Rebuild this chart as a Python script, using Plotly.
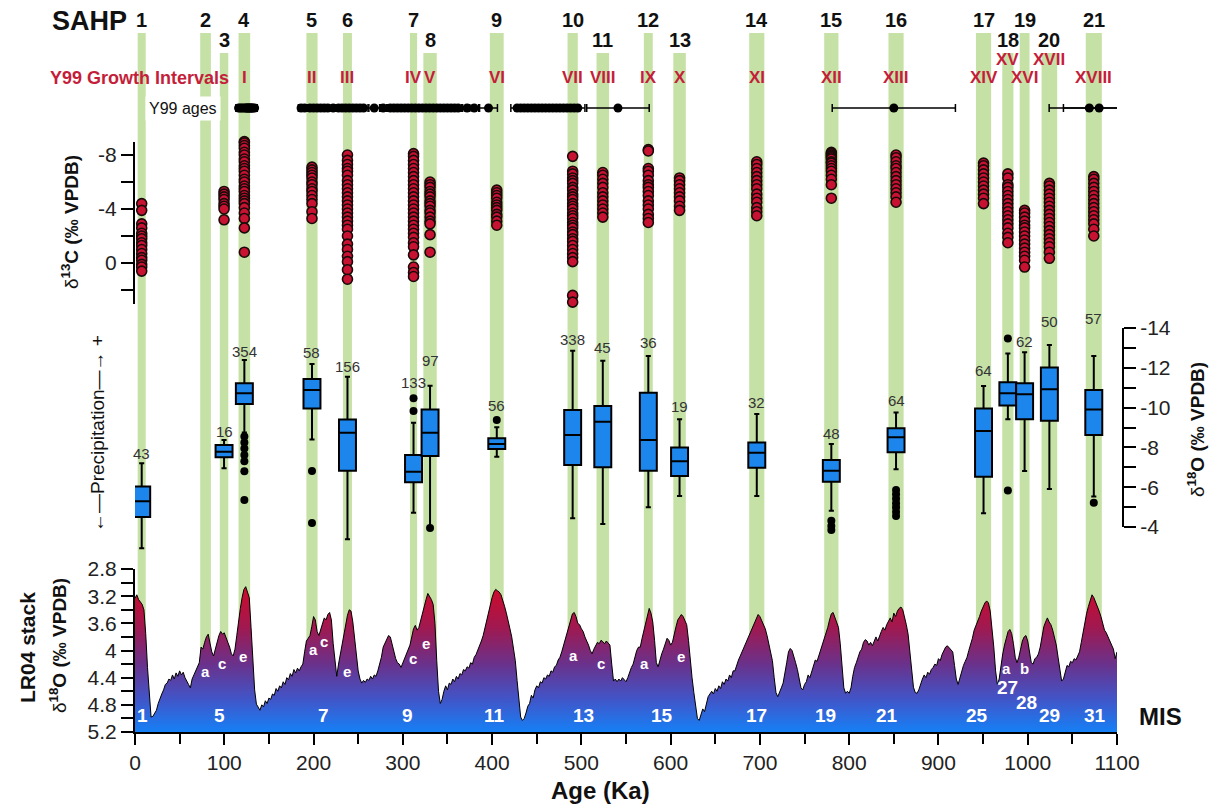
import plotly.graph_objects as go

W, H = 1219, 811
FONT = "Liberation Sans, Arial, sans-serif"

# ---------------- data ----------------
# SAHP green intervals (ka)
band_start = [3, 73, 95, 116, 192, 233, 308, 323, 397.5, 484.5, 517, 570, 603, 688, 772, 844, 942, 971.5, 991, 1015.5, 1065]
band_end = [12, 85, 104.5, 129, 204.5, 243, 316, 338, 413, 496, 531, 580, 617, 705, 788, 861, 959, 984, 1002, 1033, 1083]
band_tall = [1, 1, 0, 1, 1, 1, 1, 0, 1, 1, 0, 1, 0, 1, 1, 1, 1, 0, 1, 0, 1]
sahp_labels = [str(i) for i in range(1, 22)]
y99_intervals = ["", "", "", "I", "II", "III", "IV", "V", "VI", "VII", "VIII", "IX", "X", "XI",
                 "XII", "XIII", "XIV", "XV", "XVI", "XVII", "XVIII"]
y99_interval_high = ["XV", "XVII"]

# Y99 ages (ka) and 2-sigma errors
y99_age = [116, 118, 120, 122, 124, 125, 126, 127, 128, 129, 130, 131, 132, 134,
           186, 190, 196, 200, 204, 208, 212, 216, 222, 228, 232, 236, 240, 244, 248, 252, 256, 268, 278,
           286, 290, 294, 298, 302, 306, 310, 314, 318, 322, 326, 330, 334, 338, 342, 346, 350, 354, 358,
           362, 372, 380, 396,
           428, 432, 436, 440, 444, 448, 452, 456, 460, 464, 468, 472, 476, 480, 484, 488, 492, 496,
           541, 850, 1069, 1080]
y99_err = [3, 3, 3, 3, 3, 3, 3, 3, 3, 3, 3, 3, 3, 3,
           3, 3, 3, 4, 3, 4, 3, 4, 6, 3, 4, 3, 4, 3, 4, 3, 6, 7, 4,
           3, 4, 3, 4, 3, 4, 3, 4, 3, 4, 3, 4, 3, 4, 3, 4, 3, 4, 3,
           5, 6, 5, 10,
           7, 4, 4, 4, 3, 4, 3, 4, 3, 4, 4, 3, 4, 4, 4, 5, 6, 8,
           35, 69, 45, 40]

# delta13C values per SAHP interval (per mil VPDB)
d13c = {
    1: [-4.4, -3.9, -2.9, -2.6, -2.2, -2.0, -1.8, -1.5, -1.3, -1.0, -0.7, -0.4, -0.2, 0.1, 0.3, 0.6],
    3: [-5.3, -5.1, -4.9, -4.7, -4.4, -4.2, -4.0, -3.2],
    4: [-9.0, -8.9, -8.7, -8.5, -8.2, -8.0, -7.7, -7.5, -7.2, -7.0, -6.8, -6.5, -6.2, -6.0, -5.7, -5.5,
        -5.3, -5.0, -4.8, -4.6, -4.4, -4.1, -3.7, -3.3, -2.6, -0.8],
    5: [-7.1, -6.9, -6.7, -6.5, -6.3, -6.0, -5.8, -5.5, -5.3, -5.0, -4.7, -4.4, -3.8, -3.3],
    6: [-8.0, -7.6, -7.3, -7.0, -6.8, -6.5, -6.1, -5.8, -5.5, -5.2, -4.9, -4.6, -4.3, -4.0, -3.7, -3.4,
        -3.1, -2.8, -2.5, -2.0, -1.4, -1.0, -0.5, -0.1, 0.5, 1.2],
    7: [-8.1, -7.9, -7.6, -7.3, -7.0, -6.7, -6.4, -6.1, -5.8, -5.5, -5.2, -4.9, -4.6, -4.3, -4.0, -3.7,
        -3.4, -3.1, -2.8, -2.5, -2.2, -1.9, -1.5, -1.2, -0.6, 0.3, 0.7, 1.0],
    8: [-6.0, -5.8, -5.6, -5.3, -5.1, -4.9, -4.6, -4.4, -4.2, -3.9, -3.7, -3.4, -3.1, -2.9, -2.1, -0.8],
    9: [-5.4, -5.2, -5.0, -4.8, -4.5, -4.3, -4.1, -3.9, -3.6, -3.4, -3.1, -2.8],
    10: [-7.9, -6.8, -6.6, -6.3, -6.1, -5.9, -5.6, -5.4, -5.1, -4.9, -4.7, -4.4, -4.2, -4.0, -3.7, -3.5,
         -3.3, -3.0, -2.8, -2.6, -2.3, -2.1, -1.8, -1.6, -1.3, -1.0, -0.7, -0.4, -0.1, 2.4, 2.9],
    11: [-6.7, -6.5, -6.2, -5.9, -5.6, -5.2, -4.9, -4.6, -4.3, -4.0, -3.7, -3.4],
    12: [-8.4, -8.3, -7.0, -6.8, -6.5, -6.1, -5.8, -5.6, -5.3, -5.0, -4.6, -4.3, -4.0, -3.6, -3.3, -3.0],
    13: [-6.3, -6.1, -5.8, -5.5, -5.2, -4.9, -4.6, -4.2, -3.9],
    14: [-7.5, -7.3, -7.0, -6.7, -6.4, -6.1, -5.8, -5.5, -5.1, -4.8, -4.5, -4.1, -3.8, -3.5],
    15: [-8.2, -8.1, -8.0, -7.9, -7.8, -7.7, -7.5, -7.4, -7.2, -7.0, -6.8, -6.5, -6.2, -5.8, -4.8],
    16: [-8.0, -7.8, -7.5, -7.2, -7.0, -6.7, -6.4, -6.1, -5.8, -5.5, -5.2, -4.9, -4.5],
    17: [-7.4, -7.2, -6.9, -6.6, -6.3, -6.0, -5.7, -5.4, -5.1, -4.8, -4.4],
    18: [-6.6, -6.3, -5.8, -5.6, -5.3, -5.0, -4.7, -4.4, -4.1, -3.8, -3.5, -3.2, -2.9, -2.6, -2.2, -1.9, -1.5],
    19: [-3.9, -3.7, -3.4, -3.1, -2.8, -2.6, -2.3, -2.0, -1.7, -1.4, -1.1, -0.8, -0.5, -0.2, 0.3],
    20: [-5.9, -5.7, -5.4, -5.1, -4.8, -4.5, -4.2, -3.9, -3.6, -3.3, -3.0, -2.7, -2.4, -2.1, -1.8, -1.5,
         -1.2, -0.8, -0.35],
    21: [-6.4, -6.2, -5.9, -5.6, -5.3, -5.0, -4.7, -4.4, -4.1, -3.8, -3.5, -3.2, -2.9, -2.5, -2.0],
}

# delta18O box statistics per SAHP interval
box_sahp = [1, 3, 4, 5, 6, 7, 8, 9, 10, 11, 12, 13, 14, 15, 16, 17, 18, 19, 20, 21]
box_n = [43, 16, 354, 58, 156, 133, 97, 56, 338, 45, 36, 19, 32, 48, 64, 64, 63, 62, 50, 57]
box_whisker_top = [-7.2, -8.37, -12.39, -12.19, -11.55, -9.24, -11.1, -9.01, -12.86, -12.36, -12.59,
                   -9.41, -9.68, -8.17, -9.75, -11.09, -12.72, -12.78, -13.15, -12.59]
box_q_top = [-6.03, -8.12, -11.22, -11.44, -9.4, -7.62, -9.91, -8.46, -9.88, -10.08, -10.75,
             -8.0, -8.24, -7.37, -8.96, -9.96, -11.27, -11.22, -12.01, -10.88]
box_median = [-5.3, -7.78, -10.72, -10.88, -8.74, -6.78, -8.74, -8.17, -8.62, -9.29, -8.37,
              -7.3, -7.73, -6.83, -8.51, -8.82, -10.72, -10.67, -10.92, -9.91]
box_q_bottom = [-4.5, -7.5, -10.18, -9.96, -6.83, -6.25, -7.57, -7.92, -7.12, -7.0, -6.83,
                -6.56, -6.98, -6.28, -7.75, -6.53, -10.1, -9.41, -9.34, -8.62]
box_whisker_bottom = [-2.93, -6.95, -8.75, -8.4, -3.38, -4.72, -4.05, -7.53, -4.44, -4.15, -4.99,
                      -5.56, -5.56, -4.82, -6.9, -4.69, -9.41, -6.81, -5.91, -5.53]
box_label_pos = [-7.67, -8.82, -12.81, -12.76, -12.06, -11.24, -12.39, -10.13, -13.4, -13.0, -13.25,
                 -10.08, -10.25, -8.72, -10.38, -11.85, -14.54, -13.31, -14.32, -14.49]
outlier_sahp = [4, 4, 4, 4, 4, 4, 4, 5, 5, 7, 7, 8, 9, 15, 15, 15,
                16, 16, 16, 16, 16, 16, 16, 18, 18, 21]
outlier_d18o = [-8.55, -8.25, -7.95, -7.62, -7.3, -6.8, -5.36, -6.81, -4.2, -10.47, -9.83, -3.95, -9.38,
                -4.32, -4.05, -3.85, -5.86, -5.64, -5.42, -5.19, -4.99, -4.77, -4.55, -13.47, -5.83, -5.22]

# LR04 benthic stack (per mil), sampled every 2 ka from 0 ka
lr04_d18o = [
    3.23, 3.18, 3.25, 3.28, 3.32, 3.40, 3.75, 4.25, 4.70, 4.98,
    4.97, 4.92, 4.88, 4.78, 4.70, 4.64, 4.58, 4.50, 4.48, 4.42,
    4.44, 4.36, 4.42, 4.33, 4.38, 4.30, 4.36, 4.32, 4.40, 4.46,
    4.50, 4.55, 4.42, 4.36, 4.30, 4.24, 4.18, 3.95, 3.98, 3.88,
    3.80, 3.76, 3.88, 4.02, 4.08, 3.98, 3.85, 3.78, 3.72, 3.76,
    3.74, 3.80, 3.88, 3.95, 4.05, 4.08, 3.98, 3.78, 3.56, 3.38,
    3.22, 3.10, 3.06, 3.13, 3.22, 3.66, 4.20, 4.58, 4.79, 4.84,
    4.88, 4.80, 4.83, 4.74, 4.78, 4.70, 4.72, 4.64, 4.66, 4.56,
    4.60, 4.52, 4.55, 4.46, 4.50, 4.40, 4.43, 4.34, 4.38, 4.28,
    4.33, 4.26, 4.30, 4.24, 4.20, 4.02, 3.86, 3.82, 3.78, 3.65,
    3.50, 3.55, 3.72, 3.78, 3.70, 3.62, 3.52, 3.55, 3.47, 3.44,
    3.55, 3.90, 4.20, 4.38, 4.20, 4.05, 3.95, 3.80, 3.62, 3.48,
    3.40, 3.42, 3.58, 3.80, 4.05, 4.30, 4.42, 4.48, 4.44, 4.47,
    4.42, 4.44, 4.38, 4.42, 4.36, 4.38, 4.30, 4.20, 4.10, 3.95,
    3.90, 3.85, 3.78, 3.80, 3.92, 4.05, 4.12, 4.18, 4.20, 4.25,
    4.18, 4.12, 4.05, 3.98, 3.92, 3.80, 3.68, 3.63, 3.70, 3.66,
    3.55, 3.45, 3.35, 3.25, 3.16, 3.20, 3.25, 3.32, 3.60, 4.15,
    4.60, 4.78, 4.72, 4.60, 4.52, 4.58, 4.48, 4.50, 4.42, 4.46,
    4.38, 4.42, 4.34, 4.36, 4.28, 4.30, 4.24, 4.26, 4.18, 4.20,
    4.10, 4.06, 4.00, 3.92, 3.86, 3.78, 3.66, 3.55, 3.45, 3.32,
    3.22, 3.14, 3.10, 3.12, 3.14, 3.18, 3.25, 3.35, 3.45, 3.55,
    3.68, 3.80, 3.95, 4.15, 4.44, 4.75, 4.98, 5.03, 5.00, 4.92,
    4.82, 4.78, 4.66, 4.70, 4.58, 4.52, 4.55, 4.46, 4.48, 4.40,
    4.42, 4.36, 4.38, 4.30, 4.32, 4.24, 4.22, 4.14, 4.10, 4.02,
    3.92, 3.82, 3.75, 3.65, 3.55, 3.46, 3.44, 3.50, 3.60, 3.62,
    3.68, 3.72, 3.80, 3.85, 3.92, 4.00, 4.05, 3.98, 3.92, 3.88,
    3.90, 3.85, 3.87, 3.90, 3.86, 3.90, 3.92, 4.20, 4.45, 4.42,
    4.46, 4.42, 4.45, 4.40, 4.44, 4.46, 4.40, 4.32, 4.25, 4.20,
    4.10, 4.00, 3.95, 3.95, 3.82, 3.72, 3.62, 3.48, 3.38, 3.45,
    3.58, 3.85, 4.18, 4.24, 4.12, 4.05, 3.98, 3.90, 3.82, 3.85,
    3.92, 3.88, 3.75, 3.65, 3.55, 3.50, 3.47, 3.50, 3.55, 3.62,
    3.85, 4.15, 4.40, 4.62, 4.85, 5.00, 5.03, 4.94, 4.86, 4.90,
    4.76, 4.68, 4.64, 4.60, 4.64, 4.56, 4.60, 4.52, 4.56, 4.46,
    4.50, 4.42, 4.45, 4.36, 4.40, 4.30, 4.30, 4.20, 4.14, 4.08,
    4.02, 3.96, 3.90, 3.84, 3.78, 3.72, 3.66, 3.58, 3.52, 3.47,
    3.50, 3.56, 3.62, 3.68, 3.78, 3.90, 4.00, 4.15, 4.40, 4.62,
    4.68, 4.60, 4.55, 4.48, 4.35, 4.18, 4.02, 3.97, 4.00, 4.08,
    4.18, 4.28, 4.45, 4.55, 4.58, 4.50, 4.46, 4.36, 4.40, 4.30,
    4.20, 4.14, 4.16, 4.08, 3.98, 3.90, 3.84, 3.76, 3.66, 3.55,
    3.46, 3.44, 3.52, 3.58, 3.66, 3.90, 4.20, 4.55, 4.63, 4.60,
    4.63, 4.55, 4.38, 4.25, 4.18, 4.08, 4.02, 3.98, 3.88, 3.84,
    3.86, 3.92, 3.88, 3.93, 3.85, 3.80, 3.86, 3.78, 3.72, 3.66,
    3.70, 3.62, 3.56, 3.52, 3.58, 3.45, 3.50, 3.42, 3.38, 3.36,
    3.40, 3.50, 3.62, 3.76, 4.05, 4.35, 4.54, 4.62, 4.63, 4.58,
    4.48, 4.42, 4.36, 4.40, 4.32, 4.35, 4.28, 4.25, 4.20, 4.22,
    4.12, 4.15, 4.06, 4.00, 3.95, 3.93, 3.96, 3.98, 4.02, 4.22,
    4.42, 4.50, 4.40, 4.30, 4.22, 4.16, 4.10, 4.00, 3.92, 3.82,
    3.70, 3.64, 3.58, 3.50, 3.42, 3.36, 3.30, 3.27, 3.30, 3.42,
    3.65, 3.95, 4.30, 4.50, 4.42, 4.20, 4.05, 3.92, 3.80, 3.72,
    3.69, 3.75, 3.90, 4.10, 4.18, 4.10, 3.98, 3.86, 3.80, 3.78,
    3.86, 4.02, 4.18, 4.20, 4.12, 4.10, 4.05, 3.95, 3.80, 3.65,
    3.58, 3.52, 3.58, 3.62, 3.70, 3.82, 3.92, 4.10, 4.30, 4.45,
    4.42, 4.30, 4.22, 4.24, 4.16, 4.18, 4.12, 4.14, 4.08, 4.02,
    3.88, 3.72, 3.58, 3.45, 3.35, 3.26, 3.18, 3.22, 3.28, 3.36,
    3.42, 3.50, 3.60, 3.70, 3.74, 3.80, 3.88, 3.92, 3.98, 4.12,
    4.02,
]
lr04_age = [2 * i for i in range(len(lr04_d18o))]

mis_labels = ["1", "5", "7", "9", "11", "13", "15", "17", "19", "21", "25", "27", "28", "29", "31"]
mis_age = [8, 95, 211, 305, 403, 502, 590, 696, 773, 842, 943, 977, 999, 1024, 1075]
mis_pos = [4.95, 4.95, 4.95, 4.95, 4.95, 4.95, 4.95, 4.95, 4.95, 4.95, 4.95, 4.55, 4.76, 4.95, 4.95]
substage_labels = ["a", "c", "e", "a", "c", "e", "c", "e", "a", "c", "a", "e", "a", "b"]
substage_age = [79.5, 97, 121, 200, 211.5, 237, 311.5, 326.5, 491, 522.5, 571, 611.5, 976, 996.5]
substage_pos = [4.31, 4.19, 4.09, 3.99, 3.87, 4.31, 4.12, 3.89, 4.07, 4.19, 4.19, 4.09, 4.27, 4.27]

x_ticks = list(range(0, 1101, 100))
lr_ticks = [2.8, 3.2, 3.6, 4.0, 4.4, 4.8, 5.2]
lr_ticktext = ["2.8", "3.2", "3.6", "4", "4.4", "4.8", "5.2"]
lr_minor = [3.0, 3.4, 3.8, 4.2, 4.6, 5.0]
c13_ticks = [-8, -4, 0]
c13_minor = [-6, -2, 2]
o18_ticks = [-14, -12, -10, -8, -6, -4]
o18_minor = [-13, -11, -9, -7, -5]

# ---------------- helpers ----------------
def px(x):
    return x / W


def py(y):
    return 1 - y / H


band_center = [(a + b) / 2 for a, b in zip(band_start, band_end)]
GREEN = "rgb(198,225,166)"
RED = "rgb(200,18,50)"
BLUE = "rgb(28,134,236)"
ROMAN = "rgb(196,30,58)"
TXT = "#111111"

fig = go.Figure()

# LR04 area (baseline at axis bottom, then curve filled to it)
fig.add_trace(go.Scatter(x=lr04_age, y=[5.2] * len(lr04_age), mode="lines",
                         line=dict(width=0, color="rgba(0,0,0,0)"), hoverinfo="skip",
                         showlegend=False, xaxis="x", yaxis="y"))
fig.add_trace(go.Scatter(
    x=lr04_age, y=lr04_d18o, mode="lines", fill="tonexty",
    line=dict(color="black", width=1),
    fillgradient=dict(type="vertical", start=3.0, stop=5.2,
                      colorscale=[[0, "rgb(212,8,38)"], [0.3, "rgb(160,25,80)"],
                                  [0.55, "rgb(105,50,140)"], [0.78, "rgb(65,85,200)"],
                                  [1, "rgb(22,128,246)"]]),
    showlegend=False, xaxis="x", yaxis="y"))

# delta13C scatter
sx, sy = [], []
for k, vals in d13c.items():
    for v in vals:
        sx.append(band_center[k - 1])
        sy.append(v)
fig.add_trace(go.Scatter(x=sx, y=sy, mode="markers", cliponaxis=False,
                         marker=dict(size=10, color=RED, line=dict(color="#1a0a0a", width=1.6)),
                         showlegend=False, xaxis="x", yaxis="y3"))

# delta18O boxes
box_x = [band_center[k - 1] for k in box_sahp]
fig.add_trace(go.Box(x=box_x, q1=box_q_top, median=box_median, q3=box_q_bottom,
                     lowerfence=box_whisker_top, upperfence=box_whisker_bottom,
                     width=19, whiskerwidth=0.3, fillcolor=BLUE,
                     line=dict(color="black", width=2), boxpoints=False,
                     showlegend=False, xaxis="x", yaxis="y2"))
fig.add_trace(go.Scatter(x=[band_center[k - 1] for k in outlier_sahp], y=outlier_d18o,
                         mode="markers", cliponaxis=False,
                         marker=dict(size=8, color="black"), showlegend=False,
                         xaxis="x", yaxis="y2"))

# Y99 ages
fig.add_trace(go.Scatter(x=y99_age, y=[0.5] * len(y99_age), mode="markers", cliponaxis=False,
                         marker=dict(size=9, color="black"),
                         error_x=dict(type="data", array=y99_err, color="black", thickness=1.5, width=4),
                         showlegend=False, xaxis="x", yaxis="y4"))

# ---------------- shapes ----------------
shapes = []
for a, b, t in zip(band_start, band_end, band_tall):
    shapes.append(dict(type="rect", xref="x", yref="paper", x0=a, x1=b,
                       y0=py(732), y1=py(33) if t else py(53),
                       fillcolor=GREEN, line=dict(width=0), layer="below"))
shapes.append(dict(type="line", xref="paper", yref="y2", x0=px(1123), x1=px(1123),
                   y0=-4, y1=-14, line=dict(color="black", width=2)))

# ---------------- annotations ----------------
ann = []


def add(x, y, text, size, color=TXT, xref="paper", yref="paper", xanchor="center", angle=0, **kw):
    ann.append(dict(x=x, y=y, xref=xref, yref=yref, text=text, showarrow=False,
                    xanchor=xanchor, yanchor="middle", textangle=angle,
                    font=dict(family=FONT, size=size, color=color), **kw))


add(px(50), py(21), "<b>SAHP</b>", 27, xanchor="left")
for c, lab, t in zip(band_center, sahp_labels, band_tall):
    add(c, py(20) if t else py(40), "<b>%s</b>" % lab, 20, xref="x")
add(px(231), py(78), "<b>Y99 Growth Intervals</b>", 18, color=ROMAN, xanchor="right")
for c, lab in zip(band_center, y99_intervals):
    if lab:
        add(c, py(60) if lab in y99_interval_high else py(78), "<b>%s</b>" % lab, 17, color=ROMAN, xref="x")
add(px(183), py(108), "Y99 ages", 16, bgcolor="white", borderpad=3)
for c, n, ly in zip(box_x, box_n, box_label_pos):
    add(c, ly, str(n), 15, color="#333333", xref="x", yref="y2")
for lab, a, v in zip(mis_labels, mis_age, mis_pos):
    add(a, v, "<b>%s</b>" % lab, 19, color="white", xref="x", yref="y")
for lab, a, v in zip(substage_labels, substage_age, substage_pos):
    add(a, v, "<b>%s</b>" % lab, 15, color="white", xref="x", yref="y")
add(px(1160), py(716), "<b>MIS</b>", 24)
# axis titles
add(px(70), py(222), "δ<b><sup>13</sup>C (‰ VPDB)</b>", 19, angle=-90)
add(px(97), py(434), "<b>←</b>—Precipitation—<b>→</b> +", 19, angle=-90)
add(px(1196), py(430), "δ<b><sup>18</sup>O (‰ VPDB)</b>", 19, angle=-90)
add(px(27), py(648), "<b>LR04 stack</b>", 21, angle=-90)
add(px(58), py(645), "δ<b><sup>18</sup>O (‰ VPDB)</b>", 19, angle=-90)
add(px(600), py(790), "<b>Age (Ka)</b>", 24)

tickfont = dict(family=FONT, size=21, color="#222222")
fig.update_layout(
    width=W, height=H, autosize=False,
    margin=dict(l=0, r=0, t=0, b=0, pad=0, autoexpand=False),
    paper_bgcolor="white", plot_bgcolor="rgba(0,0,0,0)",
    showlegend=False,
    xaxis=dict(domain=[px(135), px(1117)], range=[0, 1100], anchor="y", automargin=False,
               showline=True, linecolor="black", linewidth=2, mirror=False,
               ticks="outside", ticklen=11, tickwidth=2, tickcolor="black",
               tickvals=x_ticks, tickfont=tickfont, showgrid=False, zeroline=False,
               minor=dict(ticks="outside", dtick=50, tick0=0, ticklen=10, tickwidth=2, tickcolor="black")),
    yaxis=dict(domain=[py(732), py(569)], range=[5.2, 2.8], anchor="x", automargin=False,
               showline=True, linecolor="black", linewidth=2,
               ticks="outside", ticklen=12, tickwidth=2, tickcolor="black",
               tickvals=lr_ticks, ticktext=lr_ticktext, tickfont=tickfont,
               showgrid=False, zeroline=False,
               minor=dict(ticks="outside", tickvals=lr_minor, ticklen=12, tickwidth=2, tickcolor="black")),
    yaxis2=dict(domain=[py(527 + 1.5 * 19.9), py(328 - 0.5 * 19.9)], range=[-2.5, -14.5],
                anchor="free", position=px(1123), side="right", automargin=False,
                showline=False, ticks="outside", ticklen=12, tickwidth=2, tickcolor="black",
                tickvals=o18_ticks, ticktext=[str(v) for v in o18_ticks], tickfont=tickfont,
                showgrid=False, zeroline=False,
                minor=dict(ticks="outside", tickvals=o18_minor, ticklen=12, tickwidth=2, tickcolor="black")),
    yaxis3=dict(domain=[py(303.5), py(141.5)], range=[3, -9], anchor="x", automargin=False,
                showline=True, linecolor="black", linewidth=2,
                ticks="outside", ticklen=12, tickwidth=2, tickcolor="black",
                tickvals=c13_ticks, ticktext=[str(v) for v in c13_ticks], tickfont=tickfont,
                showgrid=False, zeroline=False,
                minor=dict(ticks="outside", tickvals=c13_minor, ticklen=12, tickwidth=2, tickcolor="black")),
    yaxis4=dict(domain=[py(118), py(98)], range=[0, 1], anchor="x", visible=False, automargin=False),
    shapes=shapes,
    annotations=ann,
)

fig.write_html("out.html", config={"displayModeBar": False},
               post_script="document.body.style.margin='0px';")
